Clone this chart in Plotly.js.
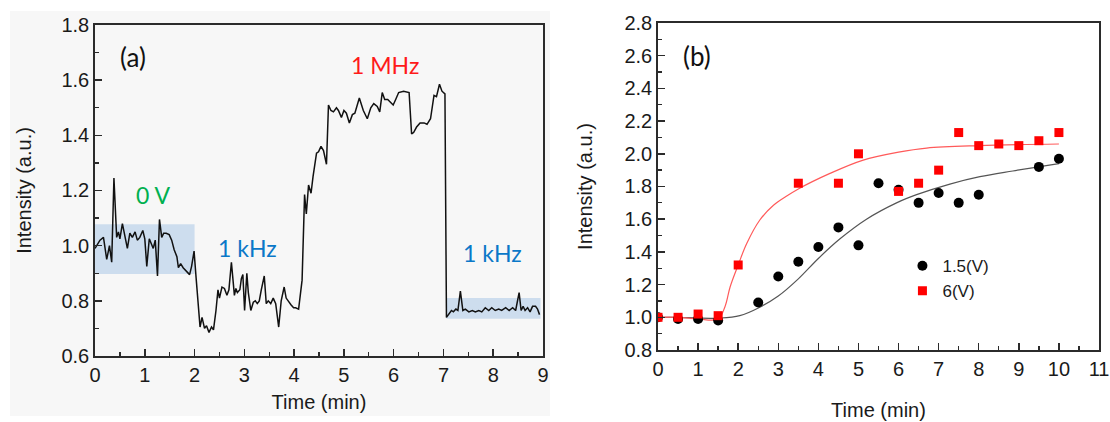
<!DOCTYPE html>
<html>
<head>
<meta charset="utf-8">
<script src="https://cdn.plot.ly/plotly-3.0.1.min.js"></script>
<style>html,body{margin:0;padding:0;background:#fff}#chart{width:1110px;height:422px}</style>
</head>
<body>
<div id="chart"></div>
<script>
// Panel (a): intensity vs time
const timeA = [0.00,0.10,0.17,0.235,0.29,0.335,0.38,0.435,0.47,0.50,0.55,0.60,0.65,0.70,0.75,0.805,0.85,0.90,0.96,1.00,1.04,1.09,1.13,1.17,1.21,1.255,1.295,1.34,1.38,1.43,1.49,1.54,1.59,1.645,1.675,1.72,1.77,1.845,1.90,1.94,1.99,2.03,2.05,2.08,2.11,2.15,2.20,2.24,2.29,2.34,2.38,2.43,2.47,2.50,2.55,2.60,2.65,2.69,2.74,2.80,2.83,2.86,2.91,2.94,2.97,3.005,3.05,3.08,3.13,3.18,3.22,3.26,3.30,3.34,3.40,3.44,3.48,3.53,3.58,3.63,3.69,3.74,3.80,3.84,3.89,3.94,3.99,4.03,4.09,4.16,4.21,4.245,4.29,4.34,4.38,4.45,4.49,4.54,4.59,4.65,4.69,4.74,4.79,4.85,4.89,4.95,5.00,5.05,5.11,5.17,5.22,5.31,5.39,5.47,5.54,5.60,5.67,5.72,5.77,5.82,5.88,5.94,5.99,6.04,6.10,6.20,6.27,6.31,6.36,6.40,6.46,6.53,6.61,6.67,6.74,6.81,6.86,6.92,6.97,7.00,7.03,7.06,7.12,7.16,7.20,7.25,7.29,7.34,7.39,7.44,7.51,7.58,7.64,7.71,7.77,7.84,7.91,7.97,8.04,8.11,8.17,8.25,8.32,8.39,8.45,8.52,8.56,8.60,8.64,8.69,8.74,8.79,8.85,8.89,8.93];
const intensityA = [0.99,1.02,1.03,0.95,1.00,0.94,1.245,1.03,1.05,1.025,1.08,1.03,0.99,1.045,1.03,1.05,1.02,1.03,1.055,1.025,0.925,1.025,1.01,0.99,1.02,0.89,1.095,1.03,1.045,1.045,1.04,1.02,0.985,0.96,0.92,0.935,0.92,0.905,0.895,0.925,0.98,0.885,0.84,0.74,0.705,0.74,0.70,0.71,0.685,0.705,0.695,0.765,0.84,0.81,0.85,0.845,0.82,0.84,0.94,0.82,0.845,0.83,0.84,0.88,0.895,0.765,0.90,0.83,0.765,0.795,0.80,0.79,0.80,0.84,0.89,0.79,0.80,0.79,0.81,0.79,0.705,0.80,0.85,0.81,0.795,0.785,0.775,0.775,0.77,0.875,1.185,1.115,1.22,1.19,1.25,1.335,1.34,1.36,1.345,1.295,1.51,1.49,1.485,1.50,1.49,1.465,1.49,1.48,1.445,1.475,1.48,1.535,1.49,1.46,1.50,1.515,1.505,1.485,1.555,1.53,1.53,1.52,1.51,1.53,1.555,1.56,1.555,1.555,1.405,1.41,1.43,1.445,1.445,1.44,1.46,1.545,1.54,1.585,1.56,1.555,1.55,0.74,0.755,0.765,0.76,0.77,0.765,0.835,0.765,0.77,0.76,0.765,0.76,0.765,0.76,0.775,0.765,0.775,0.765,0.77,0.765,0.775,0.765,0.775,0.765,0.83,0.765,0.78,0.765,0.775,0.76,0.78,0.78,0.77,0.75];

// Panel (b): measured points
const v15Time = [0,0.5,1,1.5,2.5,3,3.5,4,4.5,5,5.5,6,6.5,7,7.5,8,9.5,10];
const v15 = [1.00,0.99,0.99,0.98,1.09,1.25,1.34,1.43,1.55,1.44,1.82,1.78,1.70,1.76,1.70,1.75,1.92,1.97];
const v6Time = [0,0.5,1,1.5,2,3.5,4.5,5,6,6.5,7,7.5,8,8.5,9,9.5,10];
const v6 = [1.00,1.00,1.02,1.01,1.32,1.82,1.82,2.00,1.77,1.82,1.90,2.13,2.05,2.06,2.05,2.08,2.13];

// Panel (b): fitted curves
const fit15Time = [0,0.5,1,1.5,2.04,2.54,3.0,3.5,4.0,4.54,5.2,5.95,6.45,7.28,8.03,8.85,10];
const fit15 = [1.0,1.0,0.995,0.995,1.01,1.062,1.13,1.235,1.36,1.48,1.60,1.70,1.75,1.815,1.86,1.895,1.94];
const fit6Time = [0,0.5,1,1.5,1.67,1.80,2.0,2.21,2.54,2.88,3.2,3.5,4.29,5.1,6.0,6.7,8.0,10];
const fit6 = [1.0,1.0,0.99,0.99,1.065,1.187,1.32,1.45,1.595,1.685,1.74,1.785,1.88,1.96,2.01,2.035,2.05,2.06];

const labelsA = ['(a)','0 V','1 kHz','1 MHz','1 kHz'];
const labelsB = ['(b)'];

const axisLine = '#2b2b2b';
const tickFont = {family:'Liberation Sans, Arial, sans-serif', size:20, color:'#1a1a1a'};
const titleFont = {family:'Liberation Sans, Arial, sans-serif', size:20, color:'#1a1a1a'};
const labelFamily = 'Lato, Calibri, sans-serif';

const traces = [
  {x:timeA, y:intensityA, type:'scatter', mode:'lines', line:{color:'#111', width:1.5}, xaxis:'x', yaxis:'y', showlegend:false},
  {x:fit15Time, y:fit15, type:'scatter', mode:'lines', line:{color:'#555', width:1.2, shape:'spline'}, xaxis:'x2', yaxis:'y2', showlegend:false},
  {x:fit6Time, y:fit6, type:'scatter', mode:'lines', line:{color:'#ff5a5a', width:1.2, shape:'spline'}, xaxis:'x2', yaxis:'y2', showlegend:false},
  {x:v15Time, y:v15, type:'scatter', mode:'markers', name:'1.5(V)', marker:{symbol:'circle', size:10, color:'#000'}, xaxis:'x2', yaxis:'y2'},
  {x:v6Time, y:v6, type:'scatter', mode:'markers', name:'6(V)', marker:{symbol:'square', size:9, color:'#ff0000'}, xaxis:'x2', yaxis:'y2'}
];

function axisCommon(extra){
  return Object.assign({
    showgrid:false, zeroline:false, showline:true, linecolor:axisLine, linewidth:1.8, mirror:true,
    ticks:'inside', ticklen:7, tickwidth:1.5, tickcolor:axisLine, tickfont:tickFont,
    fixedrange:true
  }, extra);
}
function minorTicks(d){ return {ticks:'inside', ticklen:4, tickwidth:1.3, tickcolor:axisLine, dtick:d}; }

const layout = {
  width:1110, height:422,
  margin:{l:0,r:0,t:0,b:0},
  paper_bgcolor:'#ffffff', plot_bgcolor:'rgba(0,0,0,0)',
  showlegend:true,
  legend:{x:0.813, y:0.412, xanchor:'left', yanchor:'top', bgcolor:'rgba(0,0,0,0)', font:{family:'Liberation Sans, Arial, sans-serif', size:17, color:'#1a1a1a'}, itemwidth:30, tracegroupgap:0},
  xaxis: axisCommon({domain:[0.0856,0.4892], range:[0,9], dtick:1, tick0:0, minor:minorTicks(0.5), anchor:'y',
    title:{text:'Time (min)', font:titleFont, standoff:10}}),
  yaxis: axisCommon({domain:[0.1564,0.9408], range:[0.6,1.8], dtick:0.2, tick0:0.6, tickformat:'.1f', minor:minorTicks(0.1), anchor:'x',
    title:{text:'Intensity (a.u.)', font:titleFont, standoff:24}}),
  xaxis2: axisCommon({domain:[0.5928,0.9901], range:[0,11], dtick:1, tick0:0, minor:minorTicks(0.5), anchor:'y2',
    title:{text:'Time (min)', font:titleFont, standoff:24}}),
  yaxis2: axisCommon({domain:[0.1706,0.9455], range:[0.8,2.8], dtick:0.2, tick0:0.8, tickformat:'.1f', minor:minorTicks(0.1), anchor:'x2',
    title:{text:'Intensity (a.u.)', font:titleFont, standoff:26}}),
  shapes:[
    {type:'rect', xref:'paper', yref:'paper', x0:10/1110, x1:550/1110, y0:1-416/422, y1:1-11/422, fillcolor:'#f7f7f7', line:{width:0}, layer:'below'},
    {type:'rect', xref:'x', yref:'y', x0:0, x1:2, y0:0.897, y1:1.078, fillcolor:'#c6d8ec', opacity:0.85, line:{width:0}, layer:'below'},
    {type:'rect', xref:'x', yref:'y', x0:7.06, x1:8.95, y0:0.735, y1:0.81, fillcolor:'#c6d8ec', opacity:0.85, line:{width:0}, layer:'below'}
  ],
  annotations:[
    {xref:'x', yref:'y', x:0.76, y:1.684, text:labelsA[0], showarrow:false, font:{family:labelFamily, size:26, color:'#111'}},
    {xref:'x', yref:'y', x:1.17, y:1.184, text:labelsA[1], showarrow:false, font:{family:labelFamily, size:23, color:'#00b050'}},
    {xref:'x', yref:'y', x:3.07, y:0.99, text:labelsA[2], showarrow:false, font:{family:labelFamily, size:23, color:'#0a78c8'}},
    {xref:'x', yref:'y', x:5.83, y:1.655, text:labelsA[3], showarrow:false, font:{family:labelFamily, size:23, color:'#ff1a1a'}},
    {xref:'x', yref:'y', x:7.98, y:0.972, text:labelsA[4], showarrow:false, font:{family:labelFamily, size:23, color:'#0a78c8'}},
    {xref:'x2', yref:'y2', x:0.97, y:2.6, text:labelsB[0], showarrow:false, font:{family:labelFamily, size:26, color:'#111'}}
  ]
};

Plotly.newPlot('chart', traces, layout, {staticPlot:true, displayModeBar:false});
</script>
</body>
</html>
